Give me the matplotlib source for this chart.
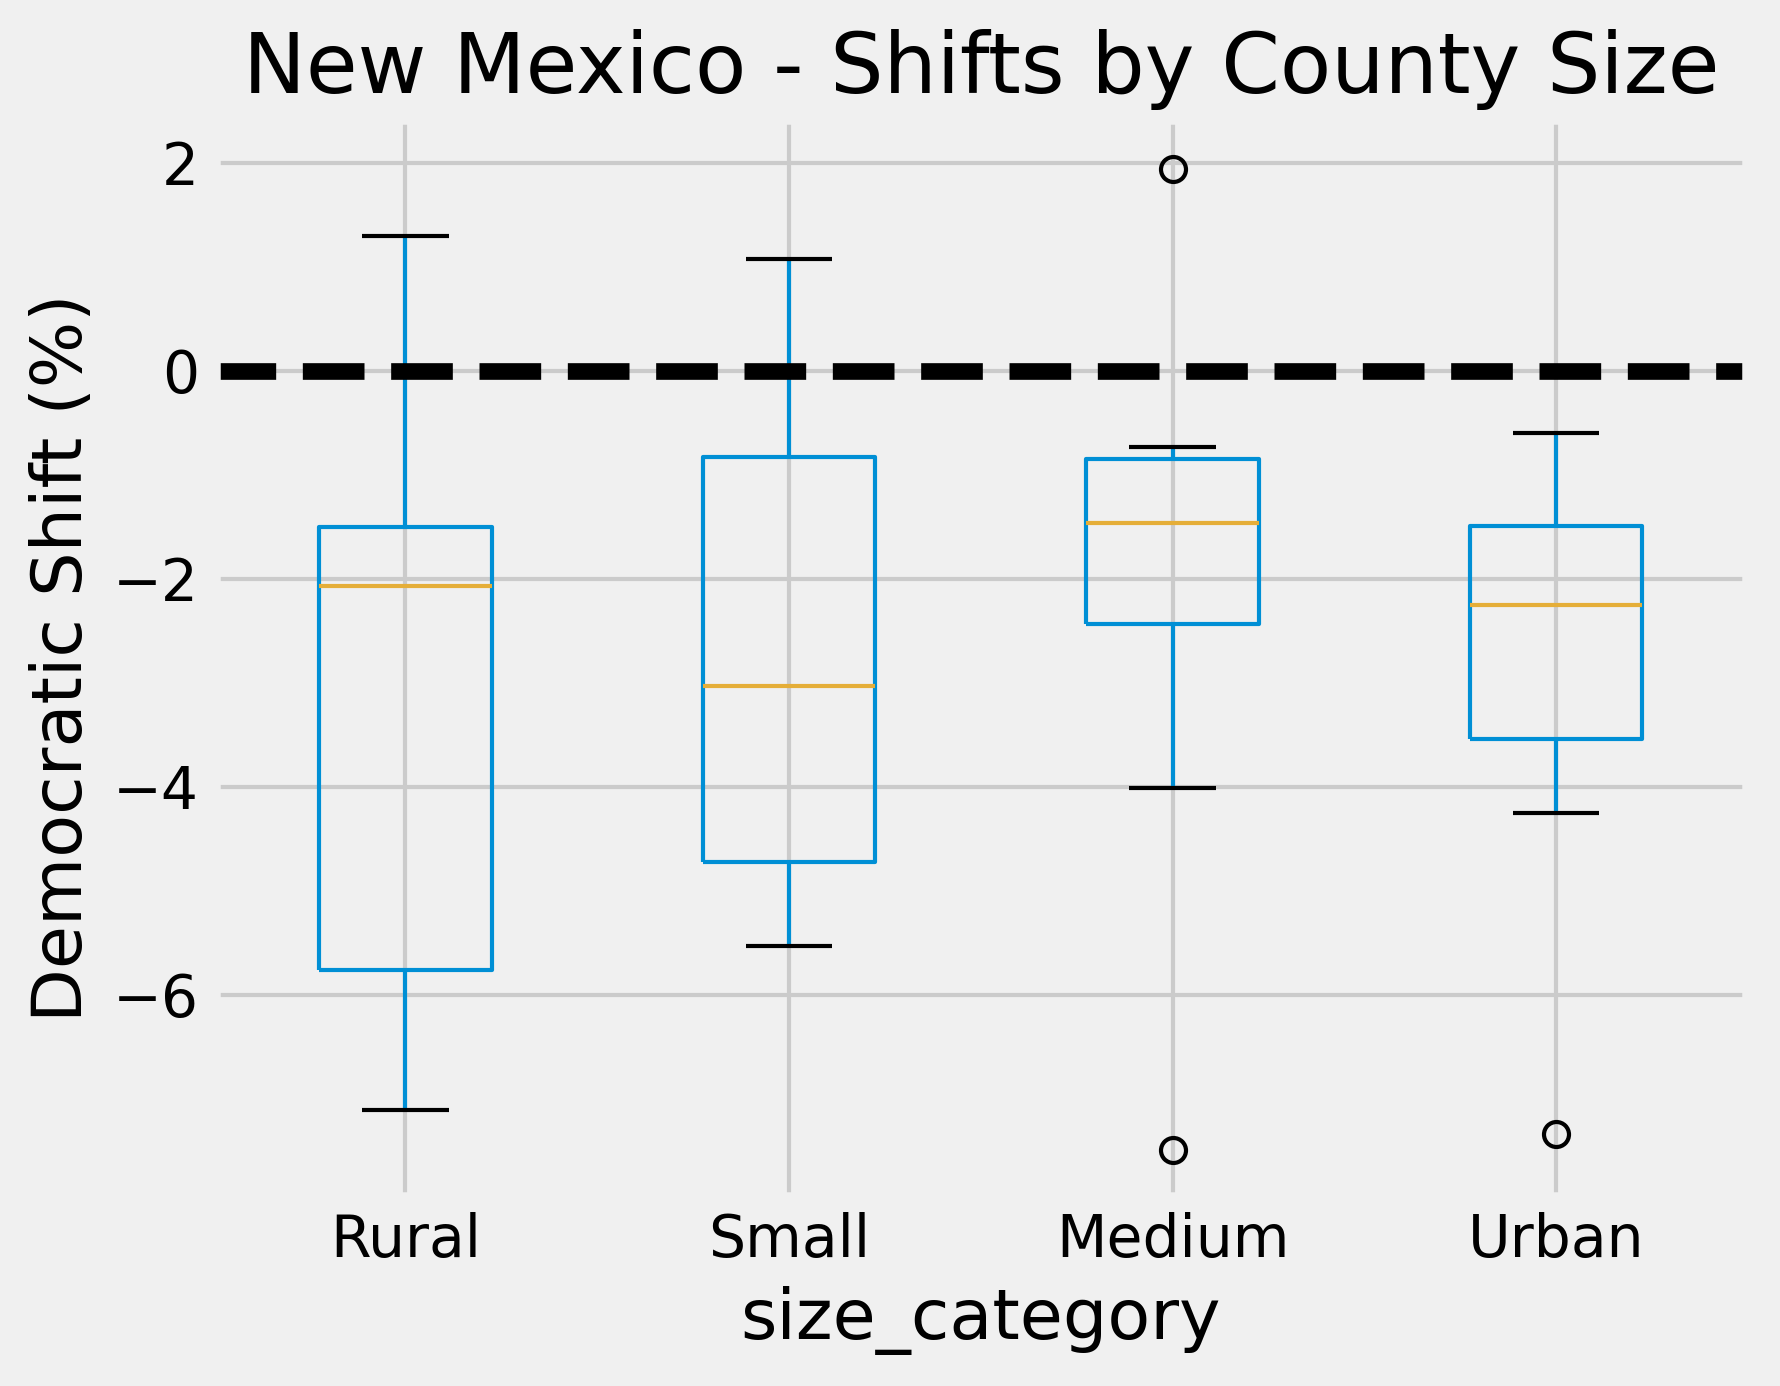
import matplotlib
matplotlib.use("Agg")
import matplotlib.pyplot as plt

plt.style.use("fivethirtyeight")

categories = ["Rural", "Small", "Medium", "Urban"]
whisker_low = [-7.11, -5.53, -4.01, -4.25]
q1 = [-5.76, -4.72, -2.44, -3.54]
median = [-2.07, -3.03, -1.47, -2.25]
q3 = [-1.50, -0.83, -0.85, -1.49]
whisker_high = [1.29, 1.07, -0.73, -0.60]
outliers = [[], [], [1.94, -7.49], [-7.34]]

stats = []
for i, name in enumerate(categories):
    stats.append(dict(label=name, whislo=whisker_low[i], q1=q1[i], med=median[i],
                      q3=q3[i], whishi=whisker_high[i], fliers=outliers[i]))

fig = plt.figure(figsize=(1780 / 300, 1386 / 300), dpi=300)
ax = fig.add_axes([0.120, 0.136, 0.862, 0.779])

blue = "#008fd5"
gold = "#e5ae38"
ax.bxp(stats, positions=[1, 2, 3, 4], widths=0.45,
       boxprops=dict(color=blue, linewidth=1.0),
       whiskerprops=dict(color=blue, linewidth=1.0),
       capprops=dict(color="black", linewidth=1.0),
       medianprops=dict(color=gold, linewidth=1.0),
       flierprops=dict(marker="o", markerfacecolor="none", markeredgecolor="black",
                       markersize=6, markeredgewidth=1.0))

ax.axhline(0, color="black", linestyle="--", linewidth=4)

ax.set_xlim(0.5, 4.5)
ax.set_ylim(-7.95, 2.43)
ax.set_yticks([2, 0, -2, -4, -6])
ax.set_title("New Mexico - Shifts by County Size")
ax.set_ylabel("Democratic Shift (%)")
ax.set_xlabel("size_category")

fig.savefig("out.png", dpi=300)
